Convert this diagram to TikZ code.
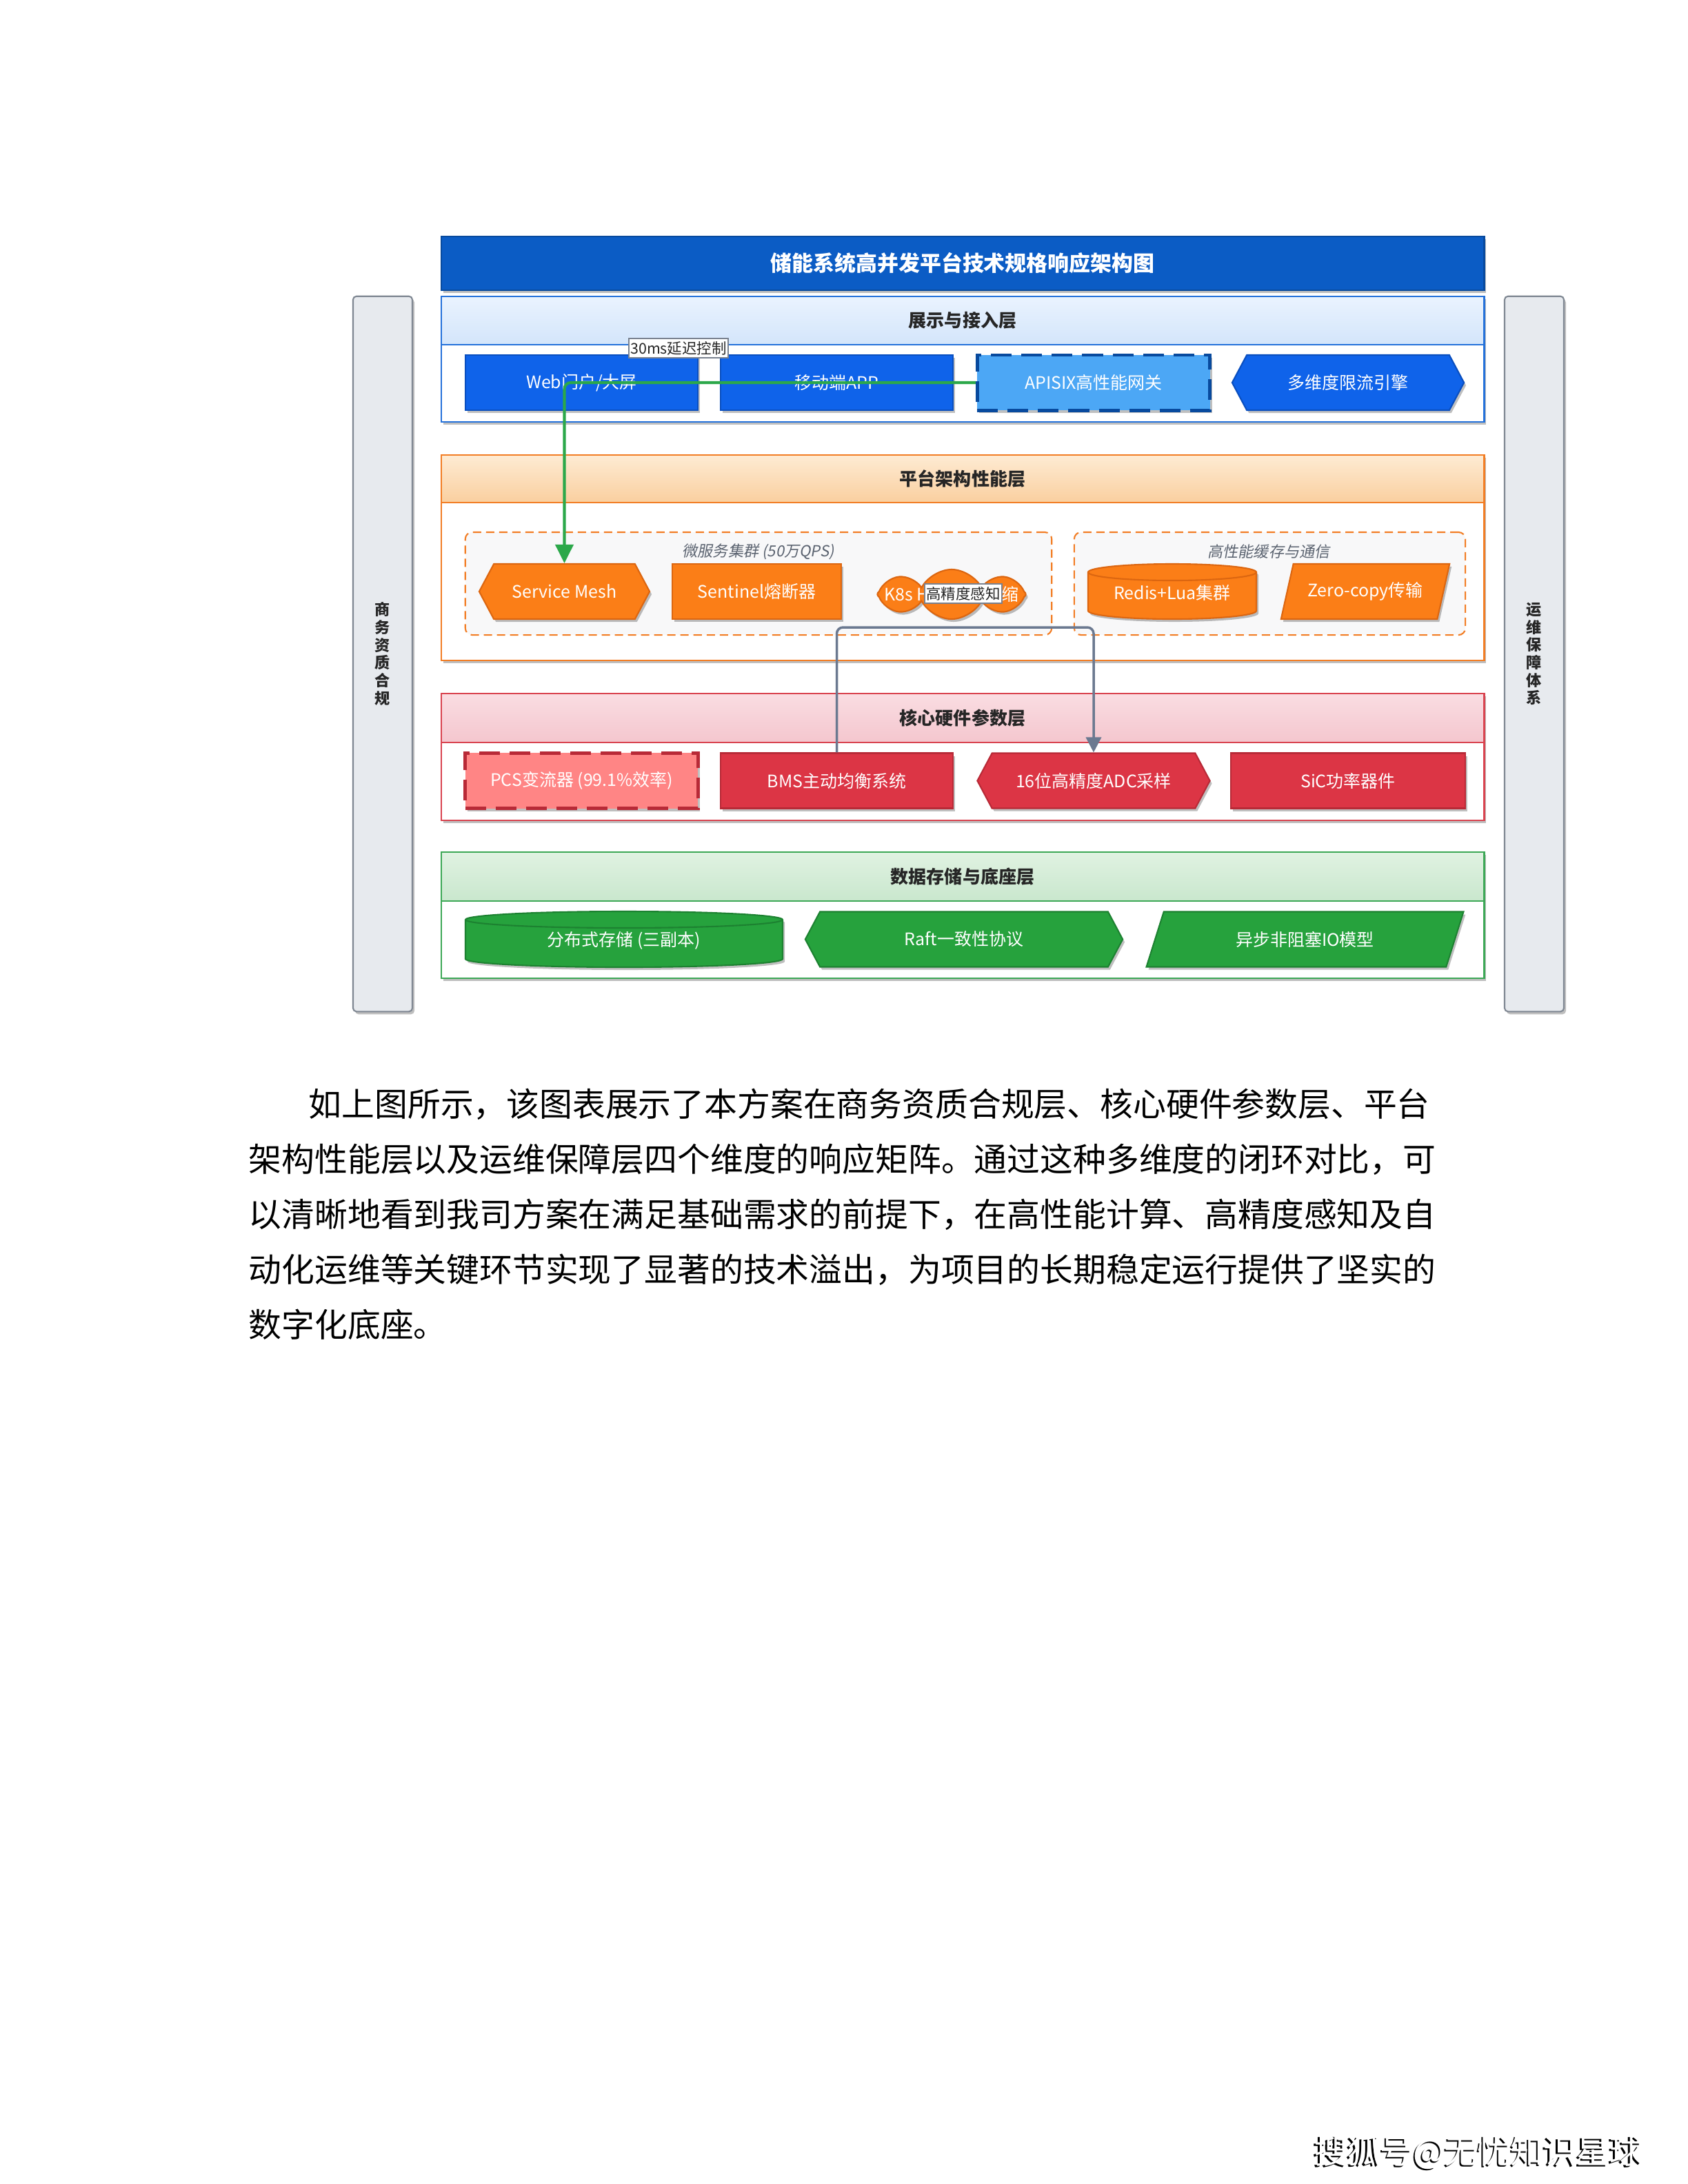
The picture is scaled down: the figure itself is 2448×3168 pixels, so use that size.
\documentclass[tikz,border=0pt]{standalone}
\usepackage{fontspec}
\setmainfont{Noto Sans CJK SC}
\newfontfamily\slantcjk{Noto Sans CJK SC}[FakeSlant=0.18]
\usetikzlibrary{arrows.meta, positioning, shadows, shapes.geometric, shapes.symbols}
\definecolor{titleblue}{HTML}{0B5CC5}
\definecolor{titleline}{HTML}{084A9E}
\definecolor{nodeblue}{HTML}{0F63EA}
\definecolor{nodeblueline}{HTML}{0A4FBF}
\definecolor{apiblue}{HTML}{4CA7F5}
\definecolor{layblue}{HTML}{2471DA}
\definecolor{headbluetop}{HTML}{EAF3FE}
\definecolor{headbluebot}{HTML}{D3E5FB}
\definecolor{nodeorange}{HTML}{FB7E17}
\definecolor{orangeline}{HTML}{DC6610}
\definecolor{layorange}{HTML}{F27D24}
\definecolor{headorangetop}{HTML}{FEEBD3}
\definecolor{headorangebot}{HTML}{FACF9F}
\definecolor{groupfill}{HTML}{F8F8F9}
\definecolor{grouptext}{HTML}{5B6370}
\definecolor{nodered}{HTML}{DC3545}
\definecolor{redline}{HTML}{B82A37}
\definecolor{pcsred}{HTML}{FF8585}
\definecolor{layred}{HTML}{D9434F}
\definecolor{headredtop}{HTML}{FADDE2}
\definecolor{headredbot}{HTML}{F4C6CE}
\definecolor{nodegreen}{HTML}{26A23D}
\definecolor{greenline}{HTML}{1D8231}
\definecolor{laygreen}{HTML}{3CA856}
\definecolor{headgreentop}{HTML}{E0F2E2}
\definecolor{headgreenbot}{HTML}{C9E7CD}
\definecolor{sidegray}{HTML}{E7EAEE}
\definecolor{sideline}{HTML}{7F8792}
\definecolor{flowgreen}{HTML}{2CA84A}
\definecolor{flowgray}{HTML}{6B7990}
\definecolor{labelline}{HTML}{7A8290}

\tikzset{
  softshadow/.style={drop shadow={shadow xshift=0.03cm, shadow yshift=-0.04cm, opacity=0.25, fill=black}},
  sidebar/.style={draw=sideline, line width=0.6pt, fill=sidegray, rounded corners=0.05cm,
    minimum width=0.86cm, minimum height=10.37cm, align=center,
    font=\bfseries\fontsize{6.3}{7.3}\selectfont, text=black!85, softshadow},
  titlebar/.style={draw=titleline, line width=0.6pt, fill=titleblue, minimum width=15.12cm,
    minimum height=0.78cm, inner sep=0pt, text=white, font=\bfseries\fontsize{8.8}{10}\selectfont, softshadow},
  layerbox/.style={draw=#1, line width=0.6pt, fill=white, minimum width=15.12cm, inner sep=0pt, softshadow},
  layerhead/.style n args={3}{draw=#1, line width=0.6pt, top color=#2, bottom color=#3,
    minimum width=15.12cm, inner sep=0pt, anchor=north,
    font=\bfseries\fontsize{7.4}{8.5}\selectfont, text=black!85},
  unit/.style={line width=0.6pt, minimum width=3.37cm, minimum height=0.80cm, inner sep=0pt,
    text=white, font=\fontsize{7.1}{8.2}\selectfont, softshadow},
  hexa/.style={shape=signal, signal to=east and west, signal pointer angle=124},
  slanted/.style={trapezium, trapezium left angle=62, trapezium right angle=118, trapezium stretches=true},
  drumtext/.style={inner sep=0pt, text=white, font=\fontsize{7.1}{8.2}\selectfont},
  bluebox/.style={unit, fill=nodeblue, draw=nodeblueline},
  orangebox/.style={unit, fill=nodeorange, draw=orangeline, minimum width=2.45cm},
  redbox/.style={unit, fill=nodered, draw=redline},
  greenbox/.style={unit, fill=nodegreen, draw=greenline, minimum width=4.60cm},
  dashedge/.style={dash pattern=on 0.30cm off 0.14cm, line width=1.4pt},
  groupbox/.style={draw=layorange, line width=0.6pt, dash pattern=on 0.12cm off 0.07cm,
    fill=groupfill, rounded corners=0.1cm, inner sep=0pt, minimum height=1.49cm},
  grouplabel/.style={font=\slantcjk\fontsize{6.3}{7.3}\selectfont, text=grouptext},
  edgelabel/.style={fill=white, draw=labelline, line width=0.5pt, inner xsep=0.7pt, inner ysep=1.2pt,
    font=\fontsize{6.1}{7}\selectfont, text=black!85},
  greenflow/.style={draw=flowgreen, line width=1.15pt, rounded corners=0.09cm,
    -{Triangle[width=0.26cm,length=0.27cm]}},
  grayflow/.style={draw=flowgray, line width=1.0pt, rounded corners=0.09cm,
    -{Triangle[width=0.22cm,length=0.22cm]}},
  bodytext/.style={anchor=base west, inner sep=0pt, font=\fontsize{13.6}{22.8}\selectfont},
  footmark/.style={anchor=base, inner sep=0pt, font=\fontsize{13.6}{16}\selectfont},
}

% cylinder body: centre x, centre y, half width, half height (px), fill, line
\newcommand{\drumshape}[6]{%
  \filldraw[fill=#5, draw=#6, line width=0.6pt, softshadow]
    ({#1-#3},{#2-#4+12}) -- ({#1-#3},{#2+#4-12})
    arc[start angle=180, end angle=360, x radius={#3*0.01cm}, y radius=0.12cm]
    -- ({#1+#3},{#2-#4+12})
    arc[start angle=0, end angle=180, x radius={#3*0.01cm}, y radius=0.12cm] -- cycle;
  \draw[draw=#6, line width=0.6pt] ({#1-#3},{#2-#4+12})
    arc[start angle=180, end angle=360, x radius={#3*0.01cm}, y radius=0.12cm];
}

\begin{document}
\begin{tikzpicture}[x=0.01cm, y=-0.01cm]
  \useasboundingbox (0,0) rectangle (2448,3168);
  \fill[white] (0,0) rectangle (2448,3168);

  % side columns
  \node[sidebar] (biz) at (555,948.5) {商\\务\\资\\质\\合\\规};
  \node[sidebar] (ops) at (2225,948.5) {运\\维\\保\\障\\体\\系};

  % title
  \node[titlebar] (title) at (1396,382) {储能系统高并发平台技术规格响应架构图};

  % layer 1
  \node[layerbox=layblue, minimum height=1.82cm] (l1) at (1396,521) {};
  \node[layerhead={layblue}{headbluetop}{headbluebot}, minimum height=0.70cm] (l1h) at (l1.north) {展示与接入层};
  \node[bluebox] (web) at (843.5,555) {Web门户/大屏};
  \node[bluebox] (app) at (1213.5,555) {移动端APP};
  \node[unit, fill=apiblue, draw=titleline, dashedge] (apisix) at (1586,555) {APISIX高性能网关};
  \node[bluebox, hexa, minimum width=3.36cm] (limit) at (1955,555) {多维度限流引擎};

  % layer 2
  \node[layerbox=layorange, minimum height=2.98cm] (l2) at (1396,809) {};
  \node[layerhead={layorange}{headorangetop}{headorangebot}, minimum height=0.69cm] (l2h) at (l2.north) {平台架构性能层};
  \node[groupbox, minimum width=8.50cm] (g1) at (1100,846.5) {};
  \node[groupbox, minimum width=5.67cm] (g2) at (1841.5,846.5) {};
  \node[grouplabel] (g1t) at (1100,800) {微服务集群 (50万QPS)};
  \node[grouplabel] (g2t) at (1840,800) {高性能缓存与通信};
  \node[orangebox, hexa, minimum width=2.47cm] (mesh) at (818.5,858) {Service Mesh};
  \node[orangebox] (sentinel) at (1097.5,858) {Sentinel熔断器};
  \node[unit, shape=cloud, cloud puffs=8, cloud puff arc=125, aspect=3.0, fill=nodeorange, draw=orangeline,
        minimum width=2.15cm, minimum height=0.72cm,
        label={[text=white, font=\fontsize{7.1}{8.2}\selectfont]center:K8s HPA弹性伸缩}] (k8s) at (1380,862) {};
  \drumshape{1700}{858}{122}{40}{nodeorange}{orangeline}
  \node[drumtext] (redis) at (1700,860) {Redis+Lua集群};
  \node[orangebox, slanted] (zcopy) at (1980,858) {Zero-copy传输};

  % layer 3
  \node[layerbox=layred, minimum height=1.84cm] (l3) at (1396,1098) {};
  \node[layerhead={layred}{headredtop}{headredbot}, minimum height=0.71cm] (l3h) at (l3.north) {核心硬件参数层};
  \node[unit, fill=pcsred, draw=redline, dashedge] (pcs) at (843.5,1132.5) {PCS变流器 (99.1\%效率)};
  \node[redbox] (bms) at (1213.5,1132.5) {BMS主动均衡系统};
  \node[redbox, hexa] (adc) at (1586,1132.5) {16位高精度ADC采样};
  \node[redbox, minimum width=3.40cm] (sic) at (1955,1132.5) {SiC功率器件};

  % layer 4
  \node[layerbox=laygreen, minimum height=1.83cm] (l4) at (1396,1327.5) {};
  \node[layerhead={laygreen}{headgreentop}{headgreenbot}, minimum height=0.71cm] (l4h) at (l4.north) {数据存储与底座层};
  \drumshape{905}{1362.5}{230}{40.5}{nodegreen}{greenline}
  \node[drumtext] (store) at (905,1364) {分布式存储 (三副本)};
  \node[greenbox, hexa] (raft) at (1398,1362.5) {Raft一致性协议};
  \node[greenbox, slanted, minimum width=4.60cm] (async) at (1892.5,1362.5) {异步非阻塞IO模型};

  % connectors
  \draw[greenflow] (apisix.west) -| (mesh.north);
  \coordinate (ctop) at (1396,910);
  \draw[grayflow] (bms.north) |- (ctop) -| (adc.north);
  \node[edgelabel] (delay) at (984,505) {30ms延迟控制};
  \node[edgelabel] (sense) at (1397,861) {高精度感知};

  % body text
  \node[bodytext] (para1) at (447,1619) {如上图所示，该图表展示了本方案在商务资质合规层、核心硬件参数层、平台};
  \node[bodytext] (para2) at (360,1699) {架构性能层以及运维保障层四个维度的响应矩阵。通过这种多维度的闭环对比，可};
  \node[bodytext] (para3) at (360,1779) {以清晰地看到我司方案在满足基础需求的前提下，在高性能计算、高精度感知及自};
  \node[bodytext] (para4) at (360,1859) {动化运维等关键环节实现了显著的技术溢出，为项目的长期稳定运行提供了坚实的};
  \node[bodytext] (para5) at (360,1939) {数字化底座。};

  % footer mark
  \node[footmark, text=black] (footsh) at (2141.5,3140.5) {搜狐号@无忧知识星球};
  \node[footmark, text=white] (foot) at (2144,3138) {搜狐号@无忧知识星球};
\end{tikzpicture}
\end{document}
